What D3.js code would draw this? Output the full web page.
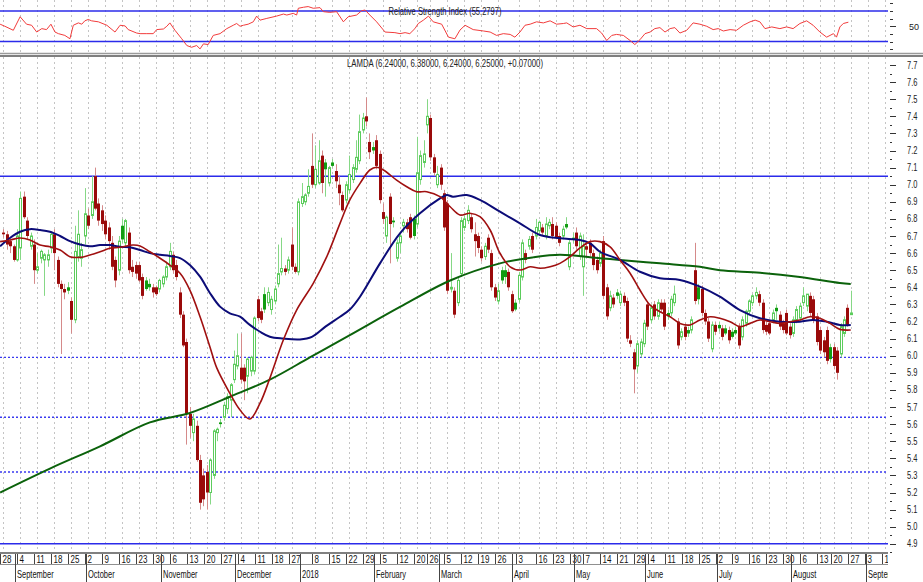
<!DOCTYPE html>
<html><head><meta charset="utf-8">
<script src="https://cdn.jsdelivr.net/npm/d3@7"></script>
<style>body{margin:0;background:#fff}svg{display:block}text{font-family:"Liberation Sans",Arial,sans-serif}</style>
</head><body><svg id="c" width="923" height="582"></svg>
<script>
// OHLC per trading day (index 0 = 28 Aug 2017)
const candles = [
[6.72,6.74,6.69,6.71],[6.71,6.73,6.62,6.65],[6.67,6.68,6.60,6.64],[6.64,6.65,6.55,6.56],[6.56,6.74,6.55,6.70],
[6.63,6.96,6.56,6.92],[6.93,6.96,6.80,6.81],[6.79,6.81,6.68,6.70],[6.64,6.72,6.62,6.70],[6.65,6.68,6.42,6.50],
[6.50,6.60,6.48,6.52],[6.57,6.62,6.54,6.61],[6.56,6.60,6.35,6.59],[6.56,6.62,6.52,6.59],[6.63,6.72,6.60,6.71],
[6.71,6.74,6.50,6.60],[6.56,6.58,6.40,6.42],[6.42,6.44,6.01,6.39],[6.39,6.42,6.33,6.37],[6.40,6.43,6.36,6.38],
[6.32,6.34,6.13,6.21],[6.21,6.76,6.19,6.61],[6.58,6.85,6.55,6.71],[6.57,6.66,6.52,6.62],[6.70,6.98,6.65,6.83],
[6.82,6.86,6.74,6.76],[6.82,7.05,6.80,6.90],[7.05,7.10,6.85,6.86],[6.89,6.92,6.76,6.79],[6.85,6.88,6.73,6.77],
[6.79,6.82,6.68,6.71],[6.75,6.78,6.62,6.67],[6.66,6.70,6.50,6.52],[6.56,6.58,6.40,6.44],[6.50,6.70,6.47,6.67],
[6.76,6.80,6.66,6.68],[6.66,6.80,6.63,6.79],[6.72,6.75,6.48,6.50],[6.52,6.56,6.46,6.49],[6.53,6.55,6.45,6.48],
[6.53,6.55,6.43,6.44],[6.46,6.48,6.33,6.35],[6.44,6.46,6.38,6.39],[6.42,6.45,6.38,6.40],[6.40,6.42,6.34,6.37],
[6.40,6.41,6.35,6.36],[6.39,6.45,6.37,6.44],[6.42,6.47,6.40,6.46],[6.46,6.55,6.44,6.52],[6.52,6.66,6.50,6.61],
[6.59,6.61,6.48,6.50],[6.53,6.56,6.44,6.46],[6.37,6.40,6.22,6.24],[6.24,6.26,6.05,6.06],[6.08,6.10,5.48,5.66],
[5.66,5.70,5.52,5.59],[5.55,5.66,5.50,5.63],[5.59,5.62,5.38,5.39],[5.39,5.42,5.10,5.14],[5.30,5.34,5.12,5.16],
[5.32,5.36,5.10,5.20],[5.20,5.40,5.13,5.39],[5.30,5.57,5.28,5.56],[5.55,5.58,5.50,5.57],[5.61,5.63,5.58,5.60],
[5.64,5.73,5.62,5.71],[5.69,5.78,5.66,5.76],[5.74,5.84,5.64,5.83],[5.86,6.03,5.84,5.95],[5.94,6.13,5.92,6.00],
[5.93,6.13,5.84,5.86],[5.93,5.95,5.74,5.85],[5.88,5.99,5.78,5.98],[5.91,6.00,5.88,5.99],[5.91,6.23,5.89,6.22],
[6.33,6.35,6.20,6.22],[6.26,6.28,6.19,6.21],[6.36,6.40,6.25,6.27],[6.31,6.40,6.29,6.37],[6.27,6.35,6.24,6.33],
[6.32,6.41,6.30,6.39],[6.42,6.65,6.40,6.48],[6.49,6.69,6.47,6.51],[6.51,6.53,6.47,6.49],[6.50,6.58,6.48,6.56],
[6.65,6.75,6.50,6.52],[6.52,6.54,6.48,6.49],[6.49,6.92,6.47,6.90],[6.89,7.01,6.87,6.93],[6.90,6.95,6.88,6.94],
[6.95,7.09,6.93,6.99],[7.11,7.30,6.98,7.00],[7.00,7.23,6.98,7.09],[7.01,7.26,7.00,7.14],[7.17,7.20,6.95,7.01],
[7.13,7.15,6.93,7.09],[7.01,7.11,6.99,7.10],[7.13,7.15,7.10,7.11],[7.08,7.12,6.98,7.02],[7.00,7.05,6.88,6.95],
[6.94,6.96,6.84,6.85],[6.91,7.02,6.89,7.00],[6.97,7.17,6.95,7.06],[7.03,7.12,7.01,7.10],[7.09,7.26,7.07,7.16],
[7.14,7.41,7.12,7.31],[7.32,7.42,7.30,7.39],[7.40,7.51,7.34,7.37],[7.25,7.30,7.15,7.19],[7.22,7.25,7.18,7.20],
[7.26,7.29,7.09,7.11],[7.18,7.20,6.89,6.91],[6.84,6.89,6.77,6.80],[6.70,6.82,6.66,6.81],[6.93,6.95,6.54,6.77],
[6.79,6.81,6.75,6.78],[6.57,6.68,6.55,6.66],[6.66,6.72,6.60,6.70],[6.76,6.80,6.72,6.78],[6.78,6.80,6.72,6.74],
[6.81,6.83,6.68,6.69],[6.80,6.82,6.68,6.70],[6.77,7.28,6.75,7.07],[7.03,7.20,7.00,7.17],[7.13,7.26,7.10,7.18],
[7.35,7.50,7.30,7.40],[7.39,7.41,7.14,7.16],[7.16,7.18,7.05,7.07],[7.00,7.11,6.98,7.06],[7.10,7.12,6.97,7.00],
[6.95,6.97,6.73,6.75],[6.89,6.91,6.36,6.38],[6.39,6.60,6.37,6.40],[6.38,6.40,6.22,6.24],[6.31,6.46,6.29,6.44],
[6.48,6.81,6.46,6.79],[6.75,6.82,6.73,6.80],[6.79,6.88,6.77,6.85],[6.81,6.83,6.72,6.74],[6.71,6.78,6.58,6.67],
[6.70,6.72,6.60,6.63],[6.62,6.64,6.55,6.57],[6.58,6.66,6.56,6.64],[6.69,6.71,6.60,6.62],[6.60,6.62,6.38,6.40],
[6.40,6.42,6.32,6.34],[6.32,6.42,6.30,6.38],[6.50,6.52,6.42,6.44],[6.50,6.53,6.42,6.46],[6.49,6.51,6.38,6.40],
[6.36,6.38,6.25,6.26],[6.31,6.33,6.26,6.27],[6.33,6.49,6.31,6.47],[6.46,6.68,6.44,6.66],[6.60,6.62,6.54,6.56],
[6.64,6.70,6.62,6.68],[6.70,6.72,6.60,6.62],[6.70,6.80,6.68,6.75],[6.73,6.79,6.70,6.78],[6.75,6.77,6.70,6.72],
[6.70,6.81,6.68,6.77],[6.76,6.80,6.74,6.78],[6.77,6.81,6.68,6.70],[6.76,6.78,6.68,6.69],[6.70,6.72,6.64,6.66],
[6.70,6.76,6.68,6.74],[6.77,6.81,6.74,6.75],[6.52,6.68,6.50,6.66],[6.69,6.72,6.66,6.68],[6.72,6.75,6.62,6.64],
[6.58,6.72,6.56,6.70],[6.52,6.71,6.35,6.64],[6.64,6.66,6.58,6.62],[6.66,6.68,6.58,6.60],[6.60,6.62,6.50,6.53],
[6.56,6.58,6.48,6.50],[6.54,6.62,6.52,6.60],[6.67,6.70,6.33,6.35],[6.40,6.42,6.21,6.23],[6.28,6.38,6.26,6.35],
[6.34,6.36,6.28,6.30],[6.37,6.39,6.33,6.35],[6.31,6.38,6.29,6.36],[6.35,6.37,6.29,6.31],[6.32,6.34,6.08,6.10],
[6.09,6.12,6.05,6.07],[6.02,6.04,5.78,5.92],[5.94,6.09,5.90,6.07],[6.01,6.10,5.99,6.08],[6.07,6.21,6.05,6.19],
[6.30,6.32,6.15,6.17],[6.21,6.30,6.19,6.28],[6.30,6.32,6.21,6.23],[6.23,6.33,6.21,6.31],[6.31,6.33,6.25,6.27],
[6.31,6.33,6.15,6.17],[6.25,6.27,6.21,6.23],[6.25,6.35,6.23,6.33],[6.31,6.41,6.29,6.36],[6.20,6.22,6.04,6.06],
[6.11,6.16,6.09,6.14],[6.17,6.19,6.09,6.11],[6.15,6.17,6.11,6.13],[6.15,6.23,6.13,6.21],[6.50,6.66,6.30,6.32],
[6.40,6.42,6.30,6.33],[6.39,6.41,6.23,6.25],[6.25,6.27,6.18,6.20],[6.20,6.22,6.08,6.10],[6.04,6.20,6.02,6.18],
[6.18,6.20,6.12,6.14],[6.18,6.20,6.14,6.16],[6.16,6.18,6.09,6.11],[6.16,6.18,6.12,6.13],[6.15,6.17,6.07,6.09],
[6.14,6.16,6.10,6.11],[6.15,6.17,6.12,6.13],[6.17,6.19,6.04,6.06],[6.11,6.23,6.09,6.21],[6.19,6.27,6.17,6.26],
[6.26,6.33,6.24,6.32],[6.31,6.36,6.29,6.35],[6.35,6.40,6.33,6.37],[6.36,6.38,6.29,6.31],[6.31,6.33,6.13,6.15],
[6.18,6.20,6.12,6.14],[6.19,6.21,6.12,6.13],[6.21,6.27,6.19,6.25],[6.28,6.30,6.21,6.26],[6.24,6.26,6.15,6.17],
[6.19,6.21,6.13,6.15],[6.25,6.27,6.12,6.13],[6.17,6.19,6.10,6.12],[6.13,6.23,6.11,6.21],[6.21,6.29,6.19,6.27],
[6.22,6.31,6.20,6.29],[6.31,6.40,6.29,6.35],[6.29,6.36,6.26,6.36],[6.35,6.37,6.23,6.25],[6.33,6.35,6.19,6.21],
[6.23,6.25,6.06,6.08],[6.15,6.17,6.01,6.03],[6.09,6.11,5.99,6.02],[6.15,6.17,5.95,5.97],[6.05,6.07,5.96,5.98],
[6.05,6.07,5.92,5.94],[6.03,6.05,5.86,5.90],[6.01,6.19,5.99,6.17],[6.13,6.23,6.11,6.21],[6.28,6.30,6.17,6.18],
[6.24,6.38,6.24,6.25]
];
// moving averages [day index, price]
const maShort = [[-1,6.667],[2,6.677],[4.9,6.688],[7.8,6.677],[10.8,6.647],[13.7,6.637],[16.7,6.618],[19.6,6.579],[22.6,6.575],[25.5,6.589],[28.5,6.608],[31.4,6.628],[34.4,6.634],[38.2,6.647],[40.3,6.642],[43.2,6.608],[46.2,6.57],[49.1,6.53],[52.1,6.482],[55,6.384],[58,6.228],[60.9,6.053],[62.9,5.93],[66.8,5.78],[69.8,5.682],[72.7,5.63],[75.7,5.722],[78.6,5.868],[82.6,6.093],[86.5,6.267],[91.4,6.423],[95.4,6.579],[99.3,6.774],[102.2,6.911],[105.2,7.008],[108.1,7.086],[110.1,7.102],[112.1,7.086],[116,7.027],[119,6.988],[121.9,6.959],[124.9,6.959],[128.8,6.93],[131.8,6.871],[134.7,6.823],[137.6,6.833],[140.6,6.813],[143.6,6.735],[146.5,6.599],[149.5,6.52],[152.4,6.501],[155.4,6.52],[158.3,6.511],[161.3,6.52],[164.2,6.54],[167.2,6.579],[170.1,6.63],[173.1,6.667],[176,6.667],[179,6.637],[181.9,6.56],[184.9,6.482],[187.8,6.384],[190.8,6.296],[193.7,6.257],[196.7,6.228],[199.6,6.189],[202.6,6.18],[205.5,6.209],[208.5,6.228],[211.4,6.219],[214.4,6.199],[217.3,6.17],[220.3,6.189],[223.2,6.209],[226.2,6.199],[229.1,6.189],[232.1,6.199],[235,6.209],[238,6.228],[240.9,6.219],[243.9,6.189],[246.8,6.154],[250,6.15]];
const maMid = [[-1,6.64],[2,6.69],[4.9,6.725],[7.8,6.74],[10.8,6.735],[13.7,6.725],[16.7,6.70],[19.6,6.67],[22.6,6.65],[25.5,6.64],[28.5,6.647],[31.4,6.647],[34.4,6.637],[37.3,6.634],[40.3,6.618],[43.2,6.60],[46.2,6.59],[49.1,6.583],[52.1,6.571],[55,6.53],[58,6.462],[60.9,6.367],[63.9,6.287],[66.8,6.248],[69.8,6.228],[72.7,6.18],[75.7,6.14],[78.6,6.111],[82.5,6.10],[87.5,6.095],[91,6.11],[95,6.17],[99.3,6.228],[102.2,6.27],[105.2,6.345],[111.1,6.54],[117,6.716],[122.9,6.833],[128.8,6.92],[130.8,6.94],[132.6,6.93],[136.7,6.94],[140.6,6.911],[146.5,6.842],[152.4,6.774],[158.3,6.706],[164.2,6.687],[170.1,6.677],[173.1,6.657],[176,6.608],[181.9,6.56],[187.8,6.491],[193.7,6.453],[199.6,6.443],[205.5,6.404],[211.4,6.345],[217.3,6.267],[223.2,6.219],[229.1,6.199],[235,6.199],[238.8,6.209],[242.9,6.199],[246.8,6.18],[250,6.18]];
const maLong = [[-1,5.20],[13.7,5.34],[28.5,5.47],[43.2,5.61],[55,5.665],[66.8,5.76],[78.6,5.86],[90.4,5.99],[102.2,6.12],[117,6.285],[131.8,6.44],[146.5,6.54],[156.2,6.575],[164.2,6.59],[176,6.57],[181.9,6.56],[193.7,6.54],[205.5,6.52],[211.4,6.50],[223.3,6.485],[235,6.46],[246.8,6.425],[250,6.42]];
// RSI [day index, value]
const rsi = [[-1,52.7],[0.4,50],[2.9,44.7],[4.9,62.4],[6.8,52.7],[8.3,51.3],[9.8,42.4],[11.3,46.9],[12.7,45.6],[14,52.7],[15.2,42.4],[16.2,40.3],[18.1,38],[19.6,33.6],[20.6,51.3],[22.1,54.4],[23.1,52.7],[24,57.1],[25,58.9],[26,57.1],[28,55.8],[30.5,51.3],[32.9,42.4],[34.4,51.3],[35.9,50.4],[36.8,45.6],[39.3,41.1],[40.3,40.3],[42.3,40.3],[44.2,40.3],[45.2,45.6],[47.2,46.4],[48.2,50],[49.1,54.4],[50.6,44.7],[52.6,33.6],[54.1,24.7],[55.5,22.4],[57,24.7],[58,20.3],[59,26.9],[60.4,26],[61.9,38],[63.9,40.3],[65.9,46.9],[67.8,51.3],[68.8,53.6],[69.8,50],[70.8,51.3],[72.2,52.7],[73.7,55.8],[74.7,63.3],[75.7,58],[77.7,60.3],[80.6,63.3],[82.6,66],[83.6,64.7],[85.5,66.9],[86.5,64.7],[87,73.6],[88.5,74.9],[89.9,75.8],[91.4,73.6],[93.4,74.4],[94.4,69.1],[96.3,68.2],[98.3,69.1],[100.3,55.8],[101.7,62.4],[104.2,64.7],[105.7,70.4],[106.7,71.3],[108.1,64.7],[110.1,55.8],[112.6,42.4],[115.5,41.6],[117,40.3],[118.5,41.6],[119.9,40.3],[121.4,46.9],[122.4,53.6],[123.9,58],[125.4,63.3],[126.8,55.8],[129.3,52.7],[131.3,35.7],[133.2,33.6],[134.7,45],[136.2,51.3],[138.6,45.6],[141.6,43.8],[143.6,42.4],[145.5,38],[147.5,40.3],[149.5,39.3],[150.9,35.7],[152.4,42.4],[153.9,51.3],[155.4,52.7],[157.3,55.8],[159.3,54.4],[161.3,57.1],[163.2,52.7],[165.2,53.6],[166.2,54.4],[168.1,49.1],[170.1,51.3],[172.1,46.9],[175,46.9],[176.5,41.1],[178,31.3],[179.5,38],[180.9,39.3],[182.9,38],[184.9,31.3],[186.3,26],[187.8,32.3],[189.3,40.3],[190.8,42.4],[192.2,46.9],[193.7,48.2],[195.2,42.4],[196.7,46.9],[198.1,48.2],[199.6,41.1],[201.6,44.7],[203.5,54.4],[205.5,52.7],[207.5,50],[209.4,45.6],[210.9,46.9],[212.4,43.8],[214.4,45.6],[216.3,44.7],[218.3,51.3],[220.3,55.8],[221.8,58],[223.2,55.8],[224.7,46.9],[226.7,49.1],[229.1,46.9],[231.1,49.1],[233,46.9],[235,53.6],[237,57.1],[238.9,51.3],[240.9,42.4],[242.9,35.7],[244.9,40.3],[245.8,35.7],[246.8,49.1],[247.8,53.6],[249.3,55.3]];
const rsiLevels = [70, 30];
const rsiTicks = [80, 70, 60, 50, 40, 30, 20];
const rsiLabels = ["50"];
const solidLevels = [7.05, 4.9];
const dottedLevels = [5.99, 5.64, 5.32];
const priceLabels = ["4.9","5.0","5.1","5.2","5.3","5.4","5.5","5.6","5.7","5.8","5.9","6.0","6.1","6.2","6.3","6.4","6.5","6.6","6.7","6.8","6.9","7.0","7.1","7.2","7.3","7.4","7.5","7.6","7.7"];
const weekLabels = [["28",0],["4",5],["11",10],["18",15],["25",20],["2",25],["9",30],["16",35],["23",40],["30",45],["6",50],["13",55],["20",60],["27",65],["4",70],["11",75],["18",80],["27",85],["8",92],["15",97],["22",102],["29",107],["5",112],["12",117],["20",122],["26",126],["5",131],["12",136],["19",141],["26",146],["3",152],["16",158],["23",163],["30",168],["7",172],["14",177],["21",182],["29",187],["4",191],["11",196],["18",201],["25",206],["2",211],["9",216],["16",221],["23",226],["30",231],["6",236],["13",241],["20",245],["27",250],["3",255],["10",260]];
const monthLabels = [["September",4],["October",25],["November",47],["December",69],["2018",88],["February",110],["March",129],["April",150.6],["May",169],["June",190],["July",211],["August",233],["September",255]];
const title = "LAMDA (6.24000, 6.38000, 6.24000, 6.25000, +0.07000)";
const rsiTitle = "Relative Strength Index (55.2797)";

const svg = d3.select("#c");
const PR = 888;
const x = d3.scaleLinear().domain([-1, 261]).range([0.1, PR]);
const y = d3.scaleLinear().domain([4.9, 7.7]).range([543.8, 65]);
const yr = d3.scaleLinear().domain([30, 70]).range([41.5, 11]);

const defs = svg.append("defs");
defs.append("clipPath").attr("id","cm").append("rect").attr("x",0).attr("y",56).attr("width",PR).attr("height",497);
defs.append("clipPath").attr("id","cr").append("rect").attr("x",0).attr("y",0).attr("width",PR).attr("height",53);
defs.append("clipPath").attr("id","cx").append("rect").attr("x",0).attr("y",540).attr("width",PR).attr("height",42);

// vertical dotted grid (one per week)
const grid = svg.append("g").attr("stroke","#c4c4c4").attr("stroke-dasharray","2,3").attr("stroke-width",1);
weekLabels.forEach(([t,i]) => {
  const gx = Math.round(x(i)) + 0.5;
  grid.append("line").attr("x1",gx).attr("x2",gx).attr("y1",0).attr("y2",53);
  grid.append("line").attr("x1",gx).attr("x2",gx).attr("y1",57).attr("y2",552);
});

// RSI panel
const rp = svg.append("g").attr("clip-path","url(#cr)");
rsiLevels.forEach(v => rp.append("line").attr("x1",0).attr("x2",PR).attr("y1",yr(v)).attr("y2",yr(v)).attr("stroke","#2b2bea").attr("stroke-width",1.5));
rp.append("path").datum(rsi).attr("fill","none").attr("stroke","#f23c3c").attr("stroke-width",1)
  .attr("d", d3.line().x(d=>x(d[0])).y(d=>yr(d[1])));
svg.append("text").attr("x",445).attr("y",14.5).attr("text-anchor","middle").attr("font-size",10)
  .attr("textLength",113).attr("lengthAdjust","spacingAndGlyphs").attr("fill","#222").text(rsiTitle);
// separators
svg.append("line").attr("x1",0).attr("x2",923).attr("y1",53.5).attr("y2",53.5).attr("stroke","#9a9a9a").attr("stroke-width",1.5);
svg.append("line").attr("x1",0).attr("x2",923).attr("y1",56).attr("y2",56).attr("stroke","#555").attr("stroke-width",1.5);
// RSI axis
const ra = svg.append("g").attr("stroke","#333");
rsiTicks.forEach(v => {
  const long = v===50;
  const ty = Math.round(yr(v)) + 0.5;
  ra.append("line").attr("x1",890).attr("x2",long?896:893).attr("y1",ty).attr("y2",ty);
});
rsiLabels.forEach(t => {
  svg.append("text").attr("x",909).attr("y",yr(+t)+4).attr("font-size",9).attr("fill","#222").text(t);
});

// main panel
const mp = svg.append("g").attr("clip-path","url(#cm)");
solidLevels.forEach(v => mp.append("line").attr("x1",0).attr("x2",PR).attr("y1",y(v)).attr("y2",y(v)).attr("stroke","#2b2bea").attr("stroke-width",1.5));
dottedLevels.forEach(v => mp.append("line").attr("x1",0).attr("x2",PR).attr("y1",y(v)).attr("y2",y(v)).attr("stroke","#3a3af0").attr("stroke-width",1.3).attr("stroke-dasharray","2,2"));

// candles: rising body = hollow green; falling body = filled red,
// except a small falling body that still closes above the prior close = filled green
const cg = mp.append("g");
candles.forEach((d,i) => {
  const [o,h,l,c] = d;
  const pc = i ? candles[i-1][3] : o;
  const hollow = c > o;
  const greenFill = !hollow && c >= pc && (o - c) < 0.1;
  const isGreen = hollow || greenFill;
  const cx = Math.round(x(i)) + 0.5;
  const wick = isGreen ? "#86d886" : "#d58a8a";
  cg.append("line").attr("x1",cx).attr("x2",cx).attr("y1",y(h)).attr("y2",y(l)).attr("stroke",wick).attr("stroke-width",1);
  const top = y(Math.max(o,c)), bot = y(Math.min(o,c));
  const hgt = Math.max(1, bot-top);
  if (hollow) {
    cg.append("rect").attr("x",cx-1).attr("y",top).attr("width",2).attr("height",hgt)
      .attr("fill","#fff").attr("stroke","#5ccc5c").attr("stroke-width",1);
  } else {
    cg.append("rect").attr("x",cx-1.5).attr("y",top).attr("width",3).attr("height",hgt)
      .attr("fill", greenFill ? "#119c11" : "#9a0a0a");
  }
});

// moving averages
const ln = d3.line().x(d=>x(d[0])).y(d=>y(d[1])).curve(d3.curveCatmullRom.alpha(0.5));
mp.append("path").datum(maLong).attr("fill","none").attr("stroke","#0b620b").attr("stroke-width",2).attr("d",ln);
mp.append("path").datum(maMid).attr("fill","none").attr("stroke","#0c0c78").attr("stroke-width",2).attr("d",ln);
mp.append("path").datum(maShort).attr("fill","none").attr("stroke","#a01010").attr("stroke-width",1.6).attr("d",ln);

svg.append("text").attr("x",445).attr("y",67).attr("text-anchor","middle").attr("font-size",10)
  .attr("textLength",196).attr("lengthAdjust","spacingAndGlyphs").attr("fill","#222").text(title);

// price axis
const pa = svg.append("g").attr("stroke","#333");
priceLabels.forEach(t => {
  const v = +t, py = Math.round(y(v)) + 0.5;
  pa.append("line").attr("x1",890).attr("x2",896).attr("y1",py).attr("y2",py);
  const my = Math.round(y(v-0.05))+0.5;
  pa.append("line").attr("x1",890).attr("x2",892).attr("y1",my).attr("y2",my);
  svg.append("text").attr("transform",`translate(907,${y(v)+3.5}) scale(0.75,1)`).attr("font-size",10).attr("fill","#222").text(t);
});

// date axis
const da = svg.append("g").attr("clip-path","url(#cx)");
da.append("line").attr("x1",0).attr("x2",PR).attr("y1",553).attr("y2",553).attr("stroke","#808080").attr("stroke-width",2);
da.append("line").attr("x1",0).attr("x2",PR).attr("y1",564.5).attr("y2",564.5).attr("stroke","#909090").attr("stroke-width",1);
weekLabels.forEach(([t,i]) => {
  const tx = Math.round(x(i)) - 2.5;
  da.append("line").attr("x1",tx).attr("x2",tx).attr("y1",554).attr("y2",564).attr("stroke","#444");
  da.append("text").attr("transform",`translate(${tx+2},563) scale(0.8,1)`).attr("font-size",10).attr("fill","#111").text(t);
});
monthLabels.forEach(([t,i]) => {
  const tx = Math.round(x(i)) - 1.5;
  da.append("line").attr("x1",tx).attr("x2",tx).attr("y1",554).attr("y2",582).attr("stroke","#444");
  da.append("text").attr("transform",`translate(${tx+1.5},577.5) scale(0.75,1)`).attr("font-size",10).attr("fill","#111").text(t);
});
</script></body></html>
